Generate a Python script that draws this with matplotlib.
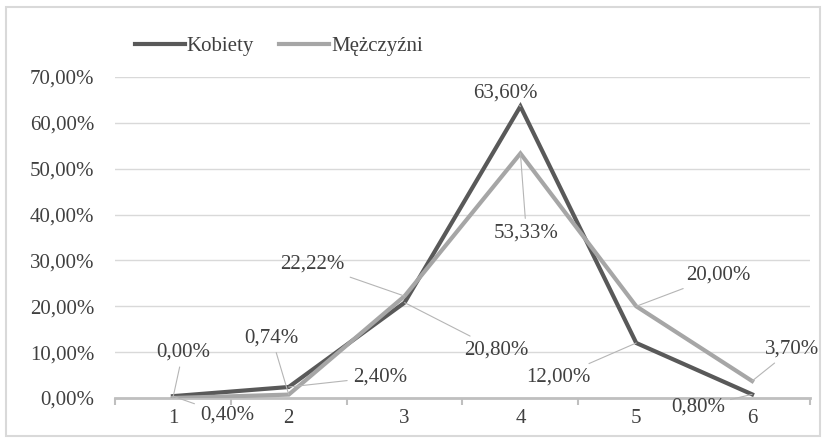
import matplotlib
matplotlib.use("Agg")
import matplotlib.pyplot as plt
from matplotlib.patches import Rectangle

categories = ["1", "2", "3", "4", "5", "6"]
kobiety = [0.40, 2.40, 20.80, 63.60, 12.00, 0.80]
mezczyzni = [0.00, 0.74, 22.22, 53.33, 20.00, 3.70]
yticks = [0, 10, 20, 30, 40, 50, 60, 70]

plt.rcParams['font.family'] = ['Liberation Serif', 'DejaVu Serif']
FS = 15
C_K = '#595959'
C_M = '#a6a6a6'

fig = plt.figure(figsize=(8.23, 4.38), dpi=100)
fig.patches.append(Rectangle((6/823, 1 - 436/438), 814/823, 429/438,
                             transform=fig.transFigure, fill=False,
                             edgecolor='#d9d9d9', lw=1.5))
ax = fig.add_axes([115/823, 1 - 398/438, 695/823, (398 - 77)/438])

x = list(range(1, len(categories) + 1))
ax.plot(x, kobiety, color=C_K, lw=3, solid_joinstyle='miter', label='Kobiety', zorder=3)
ax.plot(x, mezczyzni, color=C_M, lw=3, solid_joinstyle='miter', label='Mężczyźni', zorder=3)

ax.set_xlim(0.5, len(categories) + 0.5)
ax.set_ylim(0, 70)
ax.set_yticks(yticks)
ax.set_yticklabels([f"{v:.2f}%".replace('.', ',') for v in yticks], fontsize=FS, color='#404040')
ax.set_xticks(x)
ax.set_xticklabels(categories, fontsize=FS, color='#404040')
ax.set_xticks([i + 0.5 for i in range(0, len(categories) + 1)], minor=True)
ax.tick_params(axis='x', which='major', length=0, pad=8)
ax.tick_params(axis='x', which='minor', length=5, width=1.5, color='#bfbfbf', direction='out')
ax.tick_params(axis='y', length=0, pad=15)
ax.grid(axis='y', color='#d9d9d9', lw=1)
ax.set_axisbelow(True)
for s in ['top', 'right', 'left']:
    ax.spines[s].set_visible(False)
ax.spines['bottom'].set_color('#bfbfbf')
ax.spines['bottom'].set_linewidth(2)
ax.spines['bottom'].set_zorder(2)

def fmt(v):
    return f"{v:.2f}%".replace('.', ',')

# label offsets in pixels (dx, dy up)
k_off = [(54, -19), (91, 10), (92, -47), (-15, 13), (-78, -34), (-54, -13)]
m_off = [(10, 46), (-17, 57), (-92, 32), (6, -80), (82, 31), (40, 32)]

def label(xi, v, off):
    ax.annotate(fmt(v), xy=(xi, v), xytext=off, textcoords='offset pixels',
                ha='center', va='center', fontsize=FS, color='#404040',
                annotation_clip=False, zorder=4,
                arrowprops=dict(arrowstyle='-', color='#b5b5b5', lw=0.8,
                                shrinkA=2, shrinkB=0))

for i, v in enumerate(kobiety):
    label(x[i], v, k_off[i])
for i, v in enumerate(mezczyzni):
    label(x[i], v, m_off[i])

leg = fig.legend(loc='upper left', bbox_to_anchor=(116/823, 1 - 18/438), ncol=2,
                 frameon=False, fontsize=FS, handlelength=2.4, handletextpad=0.1,
                 columnspacing=1.2, labelcolor='#404040')

fig.savefig('out.png', dpi=100)
